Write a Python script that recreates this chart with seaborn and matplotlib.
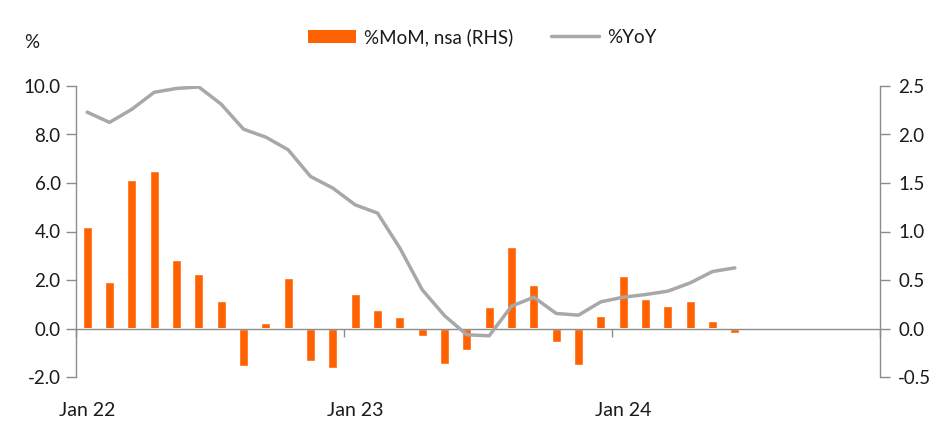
import numpy as np
import pandas as pd
import matplotlib
matplotlib.use("Agg")
import matplotlib.pyplot as plt
import matplotlib.ticker as mticker
from matplotlib.patches import Patch
from matplotlib.lines import Line2D
import seaborn as sns

# ---- data ----
months_all = pd.date_range("2022-01-01", "2024-12-01", freq="MS").strftime("%b %y").tolist()
months_data = months_all[:30]
mom_nsa = [1.05, 0.48, 1.53, 1.62, 0.71, 0.56, 0.28, -0.39, 0.06, 0.52, -0.33, -0.41,
           0.36, 0.19, 0.12, -0.08, -0.37, -0.22, 0.22, 0.84, 0.45, -0.14, -0.38, 0.13,
           0.54, 0.30, 0.23, 0.28, 0.075, -0.05]
yoy = [8.92, 8.50, 9.04, 9.74, 9.90, 9.96, 9.25, 8.22, 7.89, 7.37, 6.27, 5.79,
       5.10, 4.76, 3.32, 1.60, 0.53, -0.26, -0.30, 0.92, 1.29, 0.62, 0.55, 1.10,
       1.29, 1.40, 1.54, 1.88, 2.35, 2.50]
xtick_labels = ["Jan 22", "Jan 23", "Jan 24"]

df = pd.DataFrame({"month": months_data, "mom": mom_nsa, "yoy": yoy})
df["pos"] = [months_all.index(m) for m in df["month"]]

ORANGE = "#FF6200"
GREY = "#A8A8A8"
AXC = "#8C8C8C"
TXT = "#1a1a1a"

sns.set_theme(style="white")
plt.rcParams["font.family"] = ["Lato", "DejaVu Sans"]
plt.rcParams["axes.unicode_minus"] = False

fig = plt.figure(figsize=(9.53, 4.34), dpi=100)
ax = fig.add_axes([76/953, 57/434, (880-76)/953, (377-86)/434])
ax2 = ax.twinx()

# bars on RHS
sns.barplot(data=df, x="month", y="mom", order=months_all, color=ORANGE,
            width=0.39, ax=ax2, saturation=1)
# line on LHS
sns.lineplot(data=df, x="pos", y="yoy", color=GREY, linewidth=2.5, ax=ax)

ax.set_zorder(ax2.get_zorder() + 1)
ax.patch.set_visible(False)

ax.set_xlim(-0.5, 35.5)
ax.set_ylim(-2, 10)
ax2.set_ylim(-0.5, 2.5)
ax.set_yticks(np.arange(-2, 10.1, 2))
ax2.set_yticks(np.arange(-0.5, 2.51, 0.5))
ax.yaxis.set_major_formatter(mticker.FormatStrFormatter("%.1f"))
ax2.yaxis.set_major_formatter(mticker.FormatStrFormatter("%.1f"))

ax.set_xticks([0, 12, 24])
ax.set_xticklabels(xtick_labels)
ax.set_xlabel("")
ax.set_ylabel("")
ax2.set_xlabel("")
ax2.set_ylabel("")

for a in (ax, ax2):
    for s in ("top", "bottom"):
        a.spines[s].set_visible(False)
ax.spines["right"].set_visible(False)
ax2.spines["left"].set_visible(False)
ax.spines["left"].set_color(AXC)
ax2.spines["right"].set_color(AXC)
ax.spines["left"].set_linewidth(1)
ax2.spines["right"].set_linewidth(1)

ax.tick_params(axis="y", which="both", left=True, length=7, width=1, color=AXC,
               labelsize=13.5, labelcolor=TXT, pad=4, direction="out")
ax2.tick_params(axis="y", which="both", right=True, length=7, width=1, color=AXC,
                labelsize=13.5, labelcolor=TXT, pad=6, direction="out")
ax.tick_params(axis="x", bottom=True, length=0, labelsize=14, labelcolor=TXT, pad=18)

# zero line as secondary x axis
sec = ax.secondary_xaxis(2/12)
sec.set_xticks([-0.5, 11.5, 23.5, 35.5])
sec.set_xticklabels([])
sec.tick_params(axis="x", length=6, width=1, color=AXC, direction="out")
sec.spines["bottom"].set_color(AXC)
sec.spines["bottom"].set_linewidth(1)
for s in ("top", "left", "right"):
    sec.spines[s].set_visible(False)

fig.text(32/953, 1 - 42/434, "%", fontsize=13.5, color=TXT, va="center", ha="center")

handles = [Patch(facecolor=ORANGE, edgecolor="none"),
           Line2D([0], [0], color=GREY, lw=2.5)]
fig.legend(handles, ["%MoM, nsa (RHS)", "%YoY"], loc="center", ncol=2,
           bbox_to_anchor=(482/953, 1 - 37/434), frameon=False, fontsize=13.5,
           handlelength=2.6, columnspacing=2.0, handletextpad=0.4,
           labelcolor=TXT)

fig.savefig("out.png", dpi=100)
